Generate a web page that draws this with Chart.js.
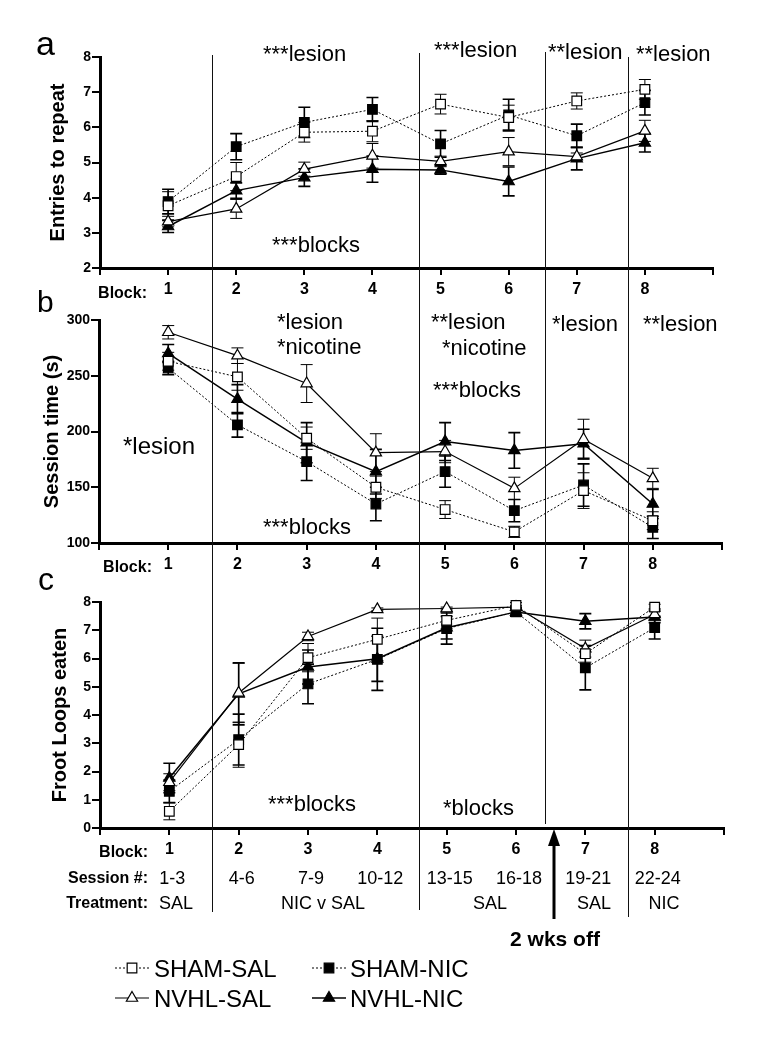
<!DOCTYPE html>
<html>
<head>
<meta charset="utf-8">
<script src="https://cdn.jsdelivr.net/npm/chart.js@4.4.1/dist/chart.umd.min.js"></script>
<style>
body { margin: 0; background: #fff; }
#page { position: relative; width: 758px; height: 1050px; overflow: hidden; font-family: 'Liberation Sans', Arial, sans-serif; color: #000; }
canvas { position: absolute; left: 0; }
.t { position: absolute; white-space: nowrap; line-height: 1; }
.sep { position: absolute; width: 0; border-left: 1.3px solid #111; }
</style>
</head>
<body>
<div id="page">
  <canvas id="chartA" width="758" height="310" style="top:0"></canvas>
  <canvas id="chartB" width="758" height="300" style="top:290px"></canvas>
  <canvas id="chartC" width="758" height="300" style="top:580px"></canvas>
  <canvas id="deco" width="758" height="1050" style="top:0"></canvas>
</div>
<script>
// blocks on the x axis
const blocks = [1, 2, 3, 4, 5, 6, 7, 8];
const sessions = ['1-3', '4-6', '7-9', '10-12', '13-15', '16-18', '19-21', '22-24'];
const treatments = ['SAL', 'NIC v SAL', 'SAL', 'SAL', 'NIC'];
const groups = ['SHAM-SAL', 'SHAM-NIC', 'NVHL-SAL', 'NVHL-NIC'];

// a: entries to repeat (mean, sem)
const entriesShamSal = [3.77, 4.60, 5.86, 5.89, 6.66, 6.28, 6.75, 7.08];
const entriesShamNic = [3.89, 5.45, 6.14, 6.51, 5.53, 6.35, 5.76, 6.70];
const entriesNvhlSal = [3.32, 3.68, 4.81, 5.19, 5.03, 5.31, 5.17, 5.90];
const entriesNvhlNic = [3.18, 4.20, 4.57, 4.81, 4.79, 4.46, 5.11, 5.56];
const entriesErrShamSal = [0.40, 0.40, 0.28, 0.30, 0.28, 0.35, 0.23, 0.28];
const entriesErrShamNic = [0.35, 0.37, 0.43, 0.34, 0.38, 0.45, 0.33, 0.35];
const entriesErrNvhlSal = [0.15, 0.27, 0.20, 0.35, 0.15, 0.40, 0.10, 0.30];
const entriesErrNvhlNic = [0.17, 0.22, 0.25, 0.37, 0.12, 0.41, 0.32, 0.26];

// b: session time (s)
const timeShamSal = [263, 249, 194, 150, 130, 110, 147, 120];
const timeShamNic = [257, 206, 173, 135, 164, 129, 152, 114];
const timeNvhlSal = [289, 268, 243, 181, 182, 149, 193, 158];
const timeNvhlNic = [270, 229, 190, 164, 191, 183, 189, 135];
const timeErrShamSal = [8, 12, 10, 10, 8, 5, 16, 8];
const timeErrShamNic = [6, 11, 17, 15, 14, 10, 19, 10];
const timeErrNvhlSal = [6, 7, 17, 17, 10, 10, 18, 9];
const timeErrNvhlNic = [8, 13, 18, 20, 17, 16, 13, 13];

// c: froot loops eaten
const loopsShamSal = [0.59, 2.95, 6.03, 6.68, 7.35, 7.88, 6.17, 7.82];
const loopsShamNic = [1.30, 3.13, 5.10, 5.97, 7.06, 7.65, 5.67, 7.09];
const loopsNvhlSal = [1.62, 4.78, 6.78, 7.74, 7.77, 7.82, 6.35, 7.56];
const loopsNvhlNic = [1.77, 4.75, 5.70, 5.99, 7.09, 7.65, 7.32, 7.47];
const loopsErrShamSal = [0.30, 0.80, 0.50, 0.75, 0.30, 0.10, 0.30, 0.10];
const loopsErrShamNic = [0.40, 0.90, 0.70, 1.10, 0.55, 0.15, 0.78, 0.40];
const loopsErrNvhlSal = [0.30, 1.05, 0.15, 0.05, 0.05, 0.05, 0.30, 0.20];
const loopsErrNvhlNic = [0.52, 1.10, 0.60, 0.80, 0.40, 0.15, 0.27, 0.20];

const page = document.getElementById('page');
Chart.defaults.font.family = "'Liberation Sans', Arial, sans-serif";
Chart.defaults.color = '#000';

const styles = [
  { dash: [2, 2], lw: 1, ps: 'rect', r: 6.8, fill: '#fff', ew: 1 },
  { dash: [2, 2], lw: 1, ps: 'rect', r: 6.8, fill: '#000', ew: 1.6 },
  { dash: [], lw: 1.2, ps: 'triangle', r: 6.5, fill: '#fff', ew: 1 },
  { dash: [], lw: 1.5, ps: 'triangle', r: 6.5, fill: '#000', ew: 1.6 }
];

// vertical sem bars under the markers
const errorBars = {
  id: 'errorBars',
  beforeDatasetsDraw(chart) {
    const ctx = chart.ctx;
    const ys = chart.scales.y;
    chart.data.datasets.forEach((ds, i) => {
      const meta = chart.getDatasetMeta(i);
      ctx.save();
      ctx.strokeStyle = '#000';
      ctx.lineWidth = ds.errWidth;
      meta.data.forEach((pt, j) => {
        const v = ds.data[j].y, e = ds.errors[j];
        const top = ys.getPixelForValue(v + e);
        const bot = ys.getPixelForValue(v - e);
        ctx.beginPath();
        ctx.moveTo(pt.x, top); ctx.lineTo(pt.x, bot);
        ctx.moveTo(pt.x - 6, top); ctx.lineTo(pt.x + 6, top);
        ctx.moveTo(pt.x - 6, bot); ctx.lineTo(pt.x + 6, bot);
        ctx.stroke();
      });
      ctx.restore();
    });
  }
};

function makeSets(seriesVals, seriesErrs) {
  return seriesVals.map((vals, i) => {
    const s = styles[i];
    return {
      label: groups[i],
      data: blocks.map((b, j) => ({ x: b, y: vals[j] })),
      errors: seriesErrs[i],
      errWidth: s.ew,
      borderColor: '#000',
      borderWidth: s.lw,
      borderDash: s.dash,
      pointStyle: s.ps,
      pointRadius: s.r,
      pointBackgroundColor: s.fill,
      pointBorderColor: '#000',
      pointBorderWidth: 1.2,
      fill: false,
      tension: 0,
      clip: false
    };
  });
}

function makePanel(id, title, yMin, yMax, yStep, pad, yWidth, titlePad, sets) {
  return new Chart(document.getElementById(id), {
    type: 'line',
    data: { datasets: sets },
    options: {
      responsive: false,
      animation: false,
      layout: { padding: pad },
      plugins: { legend: { display: false }, tooltip: { enabled: false } },
      scales: {
        x: {
          type: 'linear', min: 0, max: 9,
          grid: { drawOnChartArea: false, drawTicks: true, tickLength: 7, color: '#000', lineWidth: 2 },
          border: { display: true, color: '#000', width: 3 },
          ticks: {
            stepSize: 1, autoSkip: false, maxRotation: 0, padding: 5,
            font: { size: 16, weight: 'bold' }, color: '#000',
            callback: v => (v >= 1 && v <= 8) ? String(v) : ''
          },
          afterFit: s => { s.height = 40; }
        },
        y: {
          min: yMin, max: yMax,
          grid: { drawOnChartArea: false, drawTicks: true, tickLength: 8, color: '#000', lineWidth: 2 },
          border: { display: true, color: '#000', width: 3 },
          ticks: { stepSize: yStep, padding: 1, font: { size: 14, weight: 'bold' }, color: '#000' },
          title: { display: true, text: title, font: { size: 20, weight: 'bold' }, color: '#000', padding: { top: titlePad, bottom: 0 } },
          afterFit: s => { s.width = yWidth; }
        }
      }
    },
    plugins: [errorBars]
  });
}

const chartA = makePanel('chartA', 'Entries to repeat', 2, 8, 1,
  { top: 57, left: 45, right: 45, bottom: 2 }, 55, 1,
  makeSets([entriesShamSal, entriesShamNic, entriesNvhlSal, entriesNvhlNic],
           [entriesErrShamSal, entriesErrShamNic, entriesErrNvhlSal, entriesErrNvhlNic]));
const chartB = makePanel('chartB', 'Session time (s)', 100, 300, 50,
  { top: 30, left: 40, right: 36, bottom: 7 }, 59, 0,
  makeSets([timeShamSal, timeShamNic, timeNvhlSal, timeNvhlNic],
           [timeErrShamSal, timeErrShamNic, timeErrNvhlSal, timeErrNvhlNic]));
const chartC = makePanel('chartC', 'Froot Loops eaten', 0, 8, 1,
  { top: 22, left: 45, right: 34, bottom: 12 }, 55, 3,
  makeSets([loopsShamSal, loopsShamNic, loopsNvhlSal, loopsNvhlNic],
           [loopsErrShamSal, loopsErrShamNic, loopsErrNvhlSal, loopsErrNvhlNic]));

// text helper: x, baseline y
function addText(txt, x, base, size, bold, align) {
  const d = document.createElement('div');
  d.className = 't';
  d.textContent = txt;
  d.style.fontSize = size + 'px';
  if (bold) d.style.fontWeight = 'bold';
  d.style.top = (base - 0.8465 * size) + 'px';
  if (align === 'center') { d.style.left = x + 'px'; d.style.transform = 'translateX(-50%)'; }
  else if (align === 'right') { d.style.right = (758 - x) + 'px'; }
  else d.style.left = x + 'px';
  page.appendChild(d);
}

// separators
[[212, 55, 912], [419, 53, 910], [545, 52, 824], [628, 57, 917]].forEach(([x, y0, y1]) => {
  const d = document.createElement('div');
  d.className = 'sep';
  d.style.left = (x - 0.5) + 'px';
  d.style.top = y0 + 'px';
  d.style.height = (y1 - y0) + 'px';
  page.appendChild(d);
});

// panel letters
addText('a', 36, 55, 34);
addText('b', 37, 312, 30);
addText('c', 38, 590, 32);

// block row labels
addText('Block:', 147, 299, 16, true, 'right');
addText('Block:', 152, 573, 16, true, 'right');
addText('Block:', 148, 858, 16, true, 'right');

// stats annotations
const notes = [
  ['***lesion', 263, 62, 22], ['***blocks', 272, 253, 22], ['***lesion', 434, 58, 22],
  ['**lesion', 548, 60, 22], ['**lesion', 636, 62, 22],
  ['*lesion', 277, 330, 22], ['*nicotine', 277, 355, 22], ['*lesion', 123, 454, 24],
  ['***blocks', 263, 535, 22], ['**lesion', 431, 330, 22], ['*nicotine', 442, 356, 22],
  ['***blocks', 433, 398, 22], ['*lesion', 552, 332, 22], ['**lesion', 643, 332, 22],
  ['***blocks', 268, 812, 22], ['*blocks', 443, 816, 22]
];
notes.forEach(n => addText(n[0], n[1], n[2], n[3]));

// session / treatment rows under panel c
addText('Session #:', 148, 884, 16, true, 'right');
addText('Treatment:', 148, 909, 16, true, 'right');
sessions.forEach((s, i) => addText(s, chartC.scales.x.getPixelForValue(blocks[i]) + 3, 884, 18, false, 'center'));
const treatX = [176, 323, 490, 594, 664];
treatments.forEach((s, i) => addText(s, treatX[i], 909, 18, false, 'center'));
addText('2 wks off', 555, 946, 21, true, 'center');

// arrow and legend samples
const dc = document.getElementById('deco').getContext('2d');
dc.fillStyle = '#000';
dc.strokeStyle = '#000';
dc.lineWidth = 3;
dc.beginPath(); dc.moveTo(554, 919); dc.lineTo(554, 842); dc.stroke();
dc.beginPath(); dc.moveTo(548, 846); dc.lineTo(560, 846); dc.lineTo(554, 829); dc.closePath(); dc.fill();

const legPos = [[115, 968, 154], [312, 968, 350], [115, 998, 154], [312, 998, 350]];
groups.forEach((g, i) => {
  const s = styles[i];
  const [x0, y, tx] = legPos[i];
  dc.save();
  dc.lineWidth = s.lw;
  dc.setLineDash(s.dash);
  dc.strokeStyle = '#000';
  dc.beginPath(); dc.moveTo(x0, y); dc.lineTo(x0 + 34, y); dc.stroke();
  dc.setLineDash([]);
  dc.fillStyle = s.fill;
  dc.lineWidth = 1.2;
  Chart.helpers.drawPoint(dc, { pointStyle: s.ps, radius: s.r, rotation: 0, borderWidth: 1.2 }, x0 + 17, y);
  dc.restore();
  addText(g, tx, y + 9, 24);
});
</script>
</body>
</html>
